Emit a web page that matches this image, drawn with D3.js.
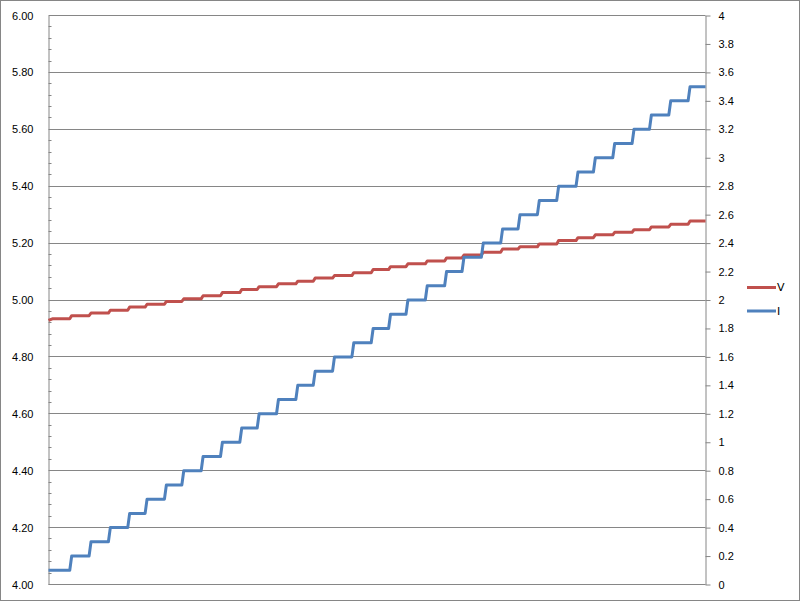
<!DOCTYPE html>
<html>
<head>
<meta charset="utf-8">
<title>V / I</title>
<script src="https://d3js.org/d3.v7.min.js"></script>
<style>
  body { margin: 0; background: #fff; }
  svg { display: block; font-family: "DejaVu Sans", sans-serif; }
  .axis text { font-size: 11px; fill: #000; }
  .axis path, .axis line { stroke: #868686; }
</style>
</head>
<body>
<svg id="chart" width="800" height="601"></svg>
<script>
// sample index at which the current steps up (one step per 0.1 A)
let stepAt = [11, 21, 31, 41, 50, 60, 69, 79, 89, 99, 108, 118, 128, 137, 147, 157, 167,
              176, 185, 195, 205, 214, 224, 234, 243, 253, 263, 273, 282, 292, 302, 311, 321, 331];
// current levels (A), right axis
let iLevels = [0.1, 0.2, 0.3, 0.4, 0.5, 0.6, 0.7, 0.8, 0.9, 1.0, 1.1, 1.2, 1.3, 1.4, 1.5, 1.6, 1.7, 1.8,
               1.9, 2.0, 2.1, 2.2, 2.3, 2.4, 2.5, 2.6, 2.7, 2.8, 2.9, 3.0, 3.1, 3.2, 3.3, 3.4, 3.5];
// voltage on each current level (V), left axis
let vLevels = [4.934, 4.945, 4.954, 4.964, 4.975, 4.985, 4.995, 5.004, 5.015, 5.026, 5.037, 5.047,
               5.057, 5.066, 5.077, 5.086, 5.096, 5.107, 5.117, 5.127, 5.137, 5.148, 5.158, 5.168,
               5.179, 5.187, 5.197, 5.209, 5.219, 5.229, 5.238, 5.247, 5.257, 5.266, 5.278];
let vStart = 4.928;
let nSamples = 340;

let leftTicks = d3.range(0, 11).map(i => 4 + i * 0.2);
let rightTicks = d3.range(0, 21).map(i => i / 5);
let legendNames = ["V", "I"];
let colors = ["#C0504D", "#4F81BD"];

// build the step series
function stepSeries(levels, first) {
    let pts = [[0, first]];
    if (first !== levels[0]) pts.push([2, levels[0]]);
    stepAt.forEach((t, k) => {
        pts.push([t, levels[k]]);
        pts.push([t + 1, levels[k + 1]]);
    });
    pts.push([nSamples, levels[levels.length - 1]]);
    return pts;
}
let vData = stepSeries(vLevels, vStart);
let iData = stepSeries(iLevels, iLevels[0]);

let svg = d3.select("#chart");
let plotL = 48.5, plotR = 705.5, plotT = 15.5, plotB = 584.5;

svg.append("rect")
    .attr("x", 0.5).attr("y", 0.5)
    .attr("width", 799).attr("height", 600)
    .attr("fill", "#fff").attr("stroke", "#868686");

let x = d3.scaleLinear().domain([0, nSamples]).range([plotL, plotR]);
let yL = d3.scaleLinear().domain([4, 6]).range([plotB, plotT]);
let yR = d3.scaleLinear().domain([0, 4]).range([plotB, plotT]);

// gridlines
svg.append("g")
    .selectAll("line")
    .data(leftTicks.slice(1))
    .enter()
    .append("line")
    .attr("x1", plotL).attr("x2", plotR)
    .attr("y1", d => Math.round(yL(d) - 0.5) + 0.5)
    .attr("y2", d => Math.round(yL(d) - 0.5) + 0.5)
    .attr("stroke", "#868686");

// minor ticks on the left axis (inside)
let minor = d3.range(0, 51).map(i => 4 + i * 0.04).filter((d, i) => i % 5 !== 0);
svg.append("g")
    .selectAll("line")
    .data(minor)
    .enter()
    .append("line")
    .attr("x1", plotL).attr("x2", plotL + 3)
    .attr("y1", d => Math.round(yL(d) - 0.5) + 0.5)
    .attr("y2", d => Math.round(yL(d) - 0.5) + 0.5)
    .attr("stroke", "#868686");

// left axis
svg.append("g")
    .attr("class", "axis")
    .attr("transform", `translate(${plotL},0)`)
    .call(d3.axisLeft(yL).tickValues(leftTicks).tickFormat(d3.format(".2f"))
        .tickSizeInner(0).tickSizeOuter(0).tickPadding(15));

// right axis
svg.append("g")
    .attr("class", "axis")
    .attr("transform", `translate(${plotR},0)`)
    .call(d3.axisRight(yR).tickValues(rightTicks).tickFormat(d => String(+d.toFixed(1)))
        .tickSizeInner(5).tickSizeOuter(0).tickPadding(8));

// bottom axis line
svg.append("line")
    .attr("x1", plotL).attr("x2", plotR)
    .attr("y1", plotB).attr("y2", plotB)
    .attr("stroke", "#868686");

// series
let lineV = d3.line().x(d => x(d[0])).y(d => yL(d[1]));
let lineI = d3.line().x(d => x(d[0])).y(d => yR(d[1]));

svg.append("path")
    .datum(vData)
    .attr("d", lineV)
    .attr("fill", "none")
    .attr("stroke", colors[0])
    .attr("stroke-width", 3)
    .attr("stroke-linejoin", "round");

svg.append("path")
    .datum(iData)
    .attr("d", lineI)
    .attr("fill", "none")
    .attr("stroke", colors[1])
    .attr("stroke-width", 3)
    .attr("stroke-linejoin", "round");

// legend
let legend = svg.append("g");
legendNames.forEach((name, k) => {
    let ly = 287.5 + k * 23.5;
    legend.append("line")
        .attr("x1", 747).attr("x2", 776)
        .attr("y1", ly).attr("y2", ly)
        .attr("stroke", colors[k]).attr("stroke-width", 3);
    legend.append("text")
        .attr("x", 777).attr("y", ly)
        .attr("dy", "0.35em")
        .attr("font-size", 11)
        .text(name);
});
</script>
</body>
</html>
